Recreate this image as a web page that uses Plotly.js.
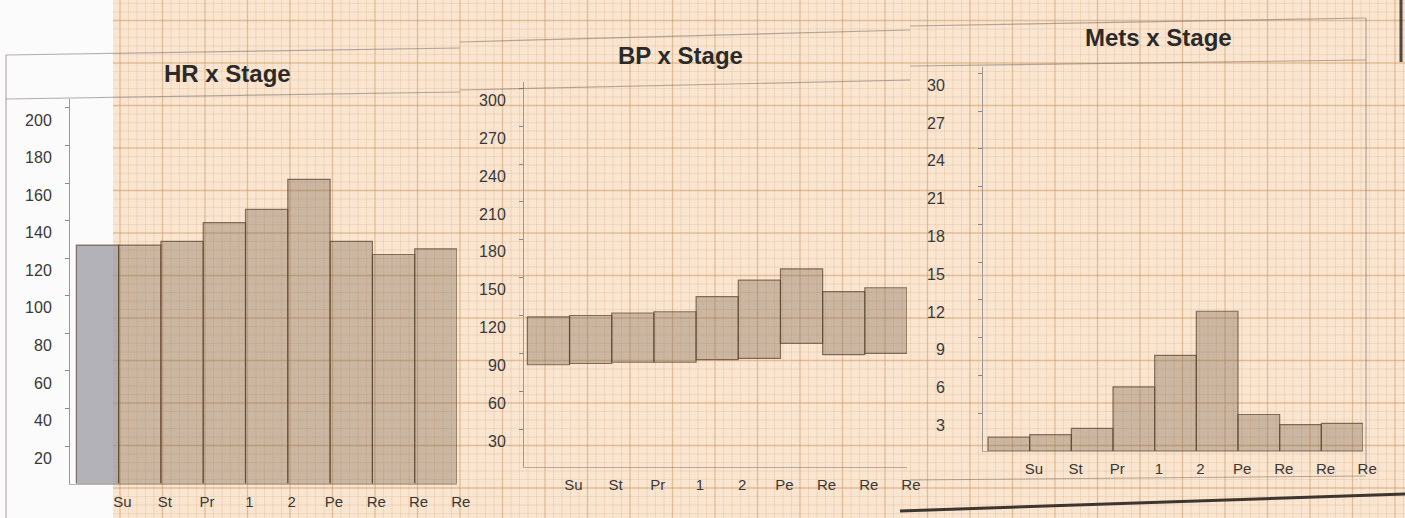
<!DOCTYPE html>
<html>
<head>
<meta charset="utf-8">
<script src="https://cdn.plot.ly/plotly-3.0.1.min.js"></script>
<style>
  html, body { margin: 0; padding: 0; background: #fff; }
  #chart { width: 1405px; height: 518px; }
</style>
</head>
<body>
<div id="chart"></div>
<script>
// stage labels under each bar
var stages = ['Su', 'St', 'Pr', '1', '2', 'Pe', 'Re', 'Re', 'Re'];

// values
var hrValues = [127, 127, 129, 139, 146, 162, 129, 122, 125];
var bpSystolic = [119, 120, 122, 123, 135, 148, 157, 139, 142];
var bpDiastolic = [81, 82, 83, 83, 85, 86, 98, 89, 90];
var metsValues = [1.1, 1.3, 1.8, 5.1, 7.6, 11.1, 2.9, 2.1, 2.2];

// y axis tick labels
var hrTicks = [20, 40, 60, 80, 100, 120, 140, 160, 180, 200];
var bpTicks = [30, 60, 90, 120, 150, 180, 210, 240, 270, 300];
var metsTicks = [3, 6, 9, 12, 15, 18, 21, 24, 27, 30];

var W = 1405, H = 518;
function fx(px) { return px / W; }
function fy(py) { return 1 - py / H; }

var idx = stages.map(function (s, i) { return i; });
var barBrown = 'rgba(125,105,85,0.38)';
var barEdge = 'rgba(85,65,45,0.7)';

var traces = [
  {
    type: 'bar', x: idx, y: hrValues, xaxis: 'x', yaxis: 'y',
    marker: {
      color: idx.map(function (i) { return i === 0 ? 'rgba(150,150,158,0.72)' : barBrown; }),
      line: { color: barEdge, width: 1.2 }
    },
    hoverinfo: 'y'
  },
  {
    type: 'bar', x: idx,
    y: bpSystolic.map(function (v, i) { return v - bpDiastolic[i]; }),
    base: bpDiastolic, xaxis: 'x2', yaxis: 'y2',
    marker: { color: barBrown, line: { color: barEdge, width: 1.2 } },
    hoverinfo: 'none'
  },
  {
    type: 'bar', x: idx, y: metsValues, xaxis: 'x3', yaxis: 'y3',
    marker: { color: barBrown, line: { color: barEdge, width: 1.2 } },
    hoverinfo: 'y'
  }
];

var tickFont = { family: 'Liberation Sans, Arial, sans-serif', size: 16, color: '#383838' };
var catFont = { family: 'Liberation Sans, Arial, sans-serif', size: 15, color: '#383838' };

function xAxis(domain, r, anchor) {
  return {
    domain: domain, range: r, anchor: anchor,
    tickvals: idx, ticktext: stages, tickfont: catFont,
    ticks: '', ticklabelshift: 25, ticklabelstandoff: 4,
    showgrid: false, zeroline: false, showline: true,
    linecolor: 'rgba(120,110,100,0.5)', linewidth: 1, fixedrange: true
  };
}
function yAxis(domain, r, vals, anchor, standoff) {
  return {
    domain: domain, range: r, anchor: anchor,
    tickvals: vals, tickfont: tickFont,
    ticks: 'outside', ticklen: 4, tickcolor: '#888',
    ticklabelshift: 12, ticklabelstandoff: standoff,
    showgrid: false, zeroline: false, showline: true,
    linecolor: '#999', linewidth: 1, fixedrange: true
  };
}

// graph paper background drawn as shapes
var shapes = [];
shapes.push({ type: 'rect', xref: 'paper', yref: 'paper', layer: 'below',
  x0: fx(113), x1: 1, y0: 0, y1: 1, fillcolor: '#fae6d0', line: { width: 0 } });
var minor = 8.5;
var minorLine = { color: 'rgba(210,160,110,0.28)', width: 0.8 };
var majorLine = { color: 'rgba(195,140,80,0.45)', width: 1.3 };
var startX = 120 - minor * Math.floor((120 - 113) / minor);
for (var px = startX; px < W; px += minor) {
  var majorV = Math.round((px - 120) / minor) % 5 === 0;
  shapes.push({ type: 'line', xref: 'paper', yref: 'paper', layer: 'below',
    x0: fx(px), x1: fx(px), y0: 0, y1: 1, line: majorV ? majorLine : minorLine });
}
var startY = 403 - minor * Math.floor(403 / minor);
for (var py = startY; py < H; py += minor) {
  var majorH = Math.round((py - 403) / minor) % 5 === 0;
  shapes.push({ type: 'line', xref: 'paper', yref: 'paper', layer: 'below',
    x0: fx(113), x1: 1, y0: fy(py), y1: fy(py), line: majorH ? majorLine : minorLine });
}

// printout panel frames
function seg(x0, y0, x1, y1, color, width) {
  shapes.push({ type: 'line', xref: 'paper', yref: 'paper', layer: 'above',
    x0: fx(x0), y0: fy(y0), x1: fx(x1), y1: fy(y1),
    line: { color: color, width: width } });
}
var frame = 'rgba(110,100,95,0.5)';
seg(6, 55, 6, 518, frame, 1.2);
seg(6, 55, 460, 48, frame, 1.2);
seg(6, 99, 460, 92, frame, 1.2);
seg(460, 42, 910, 30, frame, 1.2);
seg(460, 90, 910, 80, frame, 1.2);
seg(910, 26, 1366, 18, frame, 1.2);
seg(910, 66, 1366, 60, frame, 1.2);
seg(1366, 18, 1366, 470, frame, 1.2);
seg(910, 480, 1366, 476, frame, 1);
seg(900, 511, 1405, 494, 'rgba(40,35,30,0.9)', 3);
seg(1401, 0, 1401, 62, 'rgba(50,45,40,0.85)', 3);

var titleFont = { family: 'Liberation Sans, Arial, sans-serif', size: 24, color: '#2a2a2a' };
function title(text, cx, cy) {
  return { text: '<b>' + text + '</b>', xref: 'paper', yref: 'paper',
    x: fx(cx), y: fy(cy), xanchor: 'center', yanchor: 'middle',
    showarrow: false, font: titleFont };
}

var layout = {
  width: W, height: H,
  margin: { l: 0, r: 0, t: 0, b: 0 },
  paper_bgcolor: '#fbfbfb', plot_bgcolor: 'rgba(0,0,0,0)',
  showlegend: false, bargap: 0,
  xaxis: xAxis([fx(70), fx(457)], [-0.65, 8.5], 'y'),
  yaxis: yAxis([fy(483.6), fy(98.6)], [0, 205], hrTicks, 'x', 10),
  xaxis2: xAxis([fx(524), fx(907)], [-0.58, 8.5], 'y2'),
  yaxis2: yAxis([fy(467), fy(82)], [0, 305], bpTicks, 'x2', 10),
  xaxis3: xAxis([fx(983), fx(1363)], [-0.62, 8.5], 'y3'),
  yaxis3: yAxis([fy(451), fy(67)], [0, 30.5], metsTicks, 'x3', 30),
  shapes: shapes,
  annotations: [
    title('HR x Stage', 227, 73),
    title('BP x Stage', 680, 55),
    title('Mets x Stage', 1158, 38)
  ]
};

Plotly.newPlot('chart', traces, layout, { displayModeBar: false, staticPlot: true });
</script>
</body>
</html>
